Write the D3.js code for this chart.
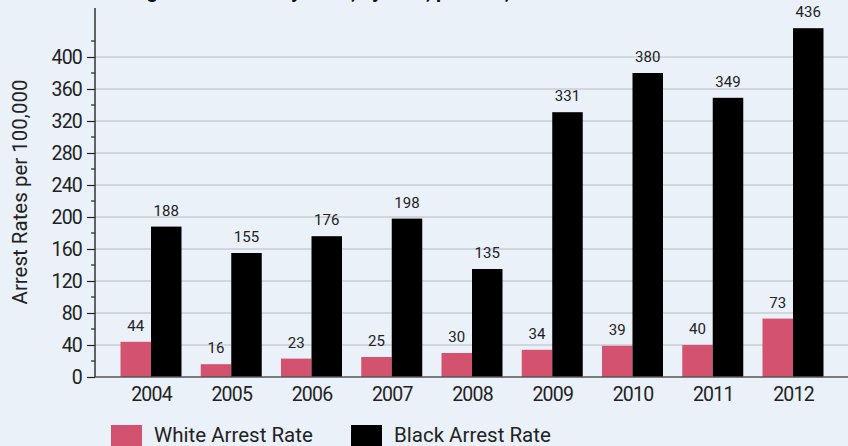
<!DOCTYPE html>
<html>
<head>
<meta charset="utf-8">
<script src="https://cdn.jsdelivr.net/npm/d3@7"></script>
<style>
  html, body { margin: 0; padding: 0; background: #ebf1f9; }
  svg { display: block; font-family: Roboto, "DejaVu Sans", sans-serif; }
</style>
</head>
<body>
<svg id="chart" width="848" height="446"></svg>
<script>
const years = ["2004","2005","2006","2007","2008","2009","2010","2011","2012"];
const whiteRate = [44, 16, 23, 25, 30, 34, 39, 40, 73];
const blackRate = [188, 155, 176, 198, 135, 331, 380, 349, 436];
const yTicks = [0, 40, 80, 120, 160, 200, 240, 280, 320, 360, 400];
const seriesNames = ["White Arrest Rate", "Black Arrest Rate"];
const seriesColors = ["#d35270", "#000000"];
const titleText = "Drug Arrest Rates by Race, by Year, per 100,000";
const yTitle = "Arrest Rates per 100,000";

const svg = d3.select("#chart");
const W = 848, H = 446;
const mLeft = 95, mBottom = 377, mTop = 9;

svg.append("rect").attr("width", W).attr("height", H).attr("fill", "#ebf1f9");

const x = d3.scalePoint().domain(years).range([151, 793]);
const y = d3.scaleLinear().domain([0, 460]).range([mBottom, mTop]);
const bw = 30.5;

// title (cut off at top in reference)
svg.append("text").attr("x", 115).attr("y", -2)
  .attr("font-size", 20).attr("font-weight", "bold").attr("fill", "#111")
  .text(titleText);

// grid lines
svg.append("g").selectAll("line").data(yTicks.filter(d => d > 0)).join("line")
  .attr("x1", mLeft).attr("x2", W)
  .attr("y1", d => y(d)).attr("y2", d => y(d))
  .attr("stroke", "#b9bcc0").attr("stroke-width", 1);

// bars
const g = svg.append("g");
years.forEach((yr, i) => {
  const cx = x(yr);
  const vals = [whiteRate[i], blackRate[i]];
  vals.forEach((v, s) => {
    const x0 = cx - bw + s * bw;
    g.append("rect")
      .attr("x", x0).attr("width", bw)
      .attr("y", y(v)).attr("height", mBottom - y(v))
      .attr("fill", seriesColors[s]);
    g.append("text")
      .attr("x", x0 + bw / 2).attr("y", y(v) - 11)
      .attr("text-anchor", "middle")
      .attr("font-size", 15).attr("fill", "#222")
      .text(v);
  });
});

// baseline
svg.append("line").attr("x1", mLeft).attr("x2", W)
  .attr("y1", mBottom).attr("y2", mBottom)
  .attr("stroke", "#555").attr("stroke-width", 1.5);

// y axis
const yAxis = d3.axisLeft(y).tickValues(yTicks).tickSize(8).tickPadding(5);
const ya = svg.append("g").attr("transform", `translate(${mLeft},0)`).call(yAxis);
ya.select(".domain").remove();
ya.selectAll(".tick line").attr("stroke", "#222").attr("stroke-width", 1.2);
ya.selectAll(".tick text").attr("font-size", 19.5).attr("fill", "#222")
  .attr("font-family", "Roboto, sans-serif").attr("letter-spacing", "-0.8px");

// minor ticks
const minor = d3.range(20, 460, 40);
svg.append("g").selectAll("line").data(minor).join("line")
  .attr("x1", mLeft - 4).attr("x2", mLeft)
  .attr("y1", d => y(d)).attr("y2", d => y(d))
  .attr("stroke", "#222").attr("stroke-width", 1.2);

svg.append("line").attr("x1", mLeft).attr("x2", mLeft)
  .attr("y1", 8).attr("y2", mBottom)
  .attr("stroke", "#333").attr("stroke-width", 1.5);

// x axis labels
const xAxis = d3.axisBottom(x).tickSize(0).tickPadding(10);
const xa = svg.append("g").attr("transform", `translate(0,${mBottom})`).call(xAxis);
xa.select(".domain").remove();
xa.selectAll(".tick text").attr("font-size", 19.5).attr("fill", "#222")
  .attr("font-family", "Roboto, sans-serif").attr("letter-spacing", "-0.8px");

// y title
svg.append("text")
  .attr("transform", `translate(27,192) rotate(-90)`)
  .attr("text-anchor", "middle")
  .attr("font-size", 20.5).attr("fill", "#222")
  .text(yTitle);

// legend
const legX = [111, 351];
seriesNames.forEach((n, i) => {
  svg.append("rect").attr("x", legX[i]).attr("y", 425)
    .attr("width", 31).attr("height", 31).attr("fill", seriesColors[i]);
  svg.append("text").attr("x", legX[i] + 43).attr("y", 442)
    .attr("font-size", 20.5).attr("fill", "#222")
    .text(n);
});
</script>
</body>
</html>
